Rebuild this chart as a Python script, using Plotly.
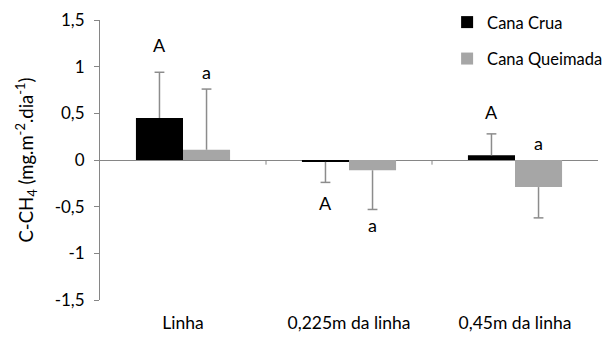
import plotly.graph_objects as go

categories = ["Linha", "0,225m da linha", "0,45m da linha"]
crua = [0.45, -0.02, 0.05]
queimada = [0.11, -0.11, -0.29]
crua_err_up = [0.49, 0.0, 0.23]
crua_err_down = [0.0, 0.22, 0.0]
queimada_err_up = [0.65, 0.0, 0.0]
queimada_err_down = [0.0, 0.42, 0.33]
crua_letters = ["A", "A", "A"]
crua_letter_y = [1.23, -0.46, 0.51]
queimada_letters = ["a", "a", "a"]
queimada_letter_y = [0.94, -0.70, 0.18]
y_ticks = [-1.5, -1, -0.5, 0, 0.5, 1, 1.5]
y_tick_text = ["-1,5", "-1", "-0,5", "0", "0,5", "1", "1,5"]

FONT = "Lato"
GRAY_AXIS = "#868686"
ERR = "#8c8c8c"
BARGAP = 0.433
idx = list(range(len(categories)))
half = (1 - BARGAP) / 4  # center offset of each bar within its group


def cap_y(vals, up, down):
    return [v + u if u > 0 else v - d for v, u, d in zip(vals, up, down)]


fig = go.Figure()
series = [
    ("Cana Crua", crua, crua_err_up, crua_err_down, "#000000", -half, "g1"),
    ("Cana Queimada", queimada, queimada_err_up, queimada_err_down, "#a6a6a6", half, "g2"),
]
for name, vals, up, down, color, off, grp in series:
    fig.add_trace(go.Bar(
        name=name, x=idx, y=vals, marker_color=color, marker_line_width=0,
        legendgroup=grp,
        error_y=dict(type="data", symmetric=False, array=up, arrayminus=down,
                     color=ERR, thickness=1.5, width=0),
    ))
for name, vals, up, down, color, off, grp in series:
    fig.add_trace(go.Scatter(
        x=[i + off for i in idx], y=cap_y(vals, up, down), mode="markers",
        marker=dict(symbol="line-ew", size=7, line=dict(color=ERR, width=1.5)),
        showlegend=False, hoverinfo="skip", legendgroup=grp,
    ))

for i in idx:
    fig.add_annotation(x=i - half, y=crua_letter_y[i], text=crua_letters[i], showarrow=False,
                       font=dict(family=FONT, size=18, color="#000"))
    fig.add_annotation(x=i + half, y=queimada_letter_y[i], text=queimada_letters[i], showarrow=False,
                       font=dict(family=FONT, size=18, color="#000"))

# small category-boundary ticks on the zero line
for b in [0.5, 1.5]:
    fig.add_shape(type="line", xref="x", yref="y", x0=b, x1=b, y0=0, y1=-0.05,
                  line=dict(color=GRAY_AXIS, width=1))

fig.update_layout(
    width=613, height=344,
    margin=dict(l=100, r=15, t=20, b=44, autoexpand=False),
    paper_bgcolor="white", plot_bgcolor="white",
    barmode="group", bargap=BARGAP, bargroupgap=0,
    font=dict(family=FONT, size=17, color="#000"),
    showlegend=True,
    legend=dict(x=0.697, y=1.054, xanchor="left", yanchor="top",
                font=dict(family=FONT, size=16.5), tracegroupgap=12,
                bgcolor="rgba(0,0,0,0)", itemwidth=30),
)
fig.update_xaxes(range=[-0.5, 2.5], tickvals=idx, ticktext=categories,
                 showline=False, showgrid=False, zeroline=False, ticks="",
                 ticklabelstandoff=10, automargin=False,
                 tickfont=dict(family=FONT, size=17.5))
fig.update_yaxes(range=[-1.5, 1.5], tickvals=y_ticks, ticktext=y_tick_text,
                 showgrid=False, showline=True, linecolor=GRAY_AXIS, linewidth=1,
                 ticks="outside", ticklen=5, tickcolor=GRAY_AXIS, automargin=False,
                 ticklabelstandoff=6,
                 zeroline=True, zerolinecolor=GRAY_AXIS, zerolinewidth=1,
                 tickfont=dict(family=FONT, size=17),
                 title=dict(text="C-CH<sub>4</sub> (mg.m<sup>-2</sup>.dia<sup>-1</sup>)",
                            font=dict(family=FONT, size=18.5), standoff=16))

fig.write_html("out.html", config={"displayModeBar": False},
               post_script="document.body.style.margin='0';")
